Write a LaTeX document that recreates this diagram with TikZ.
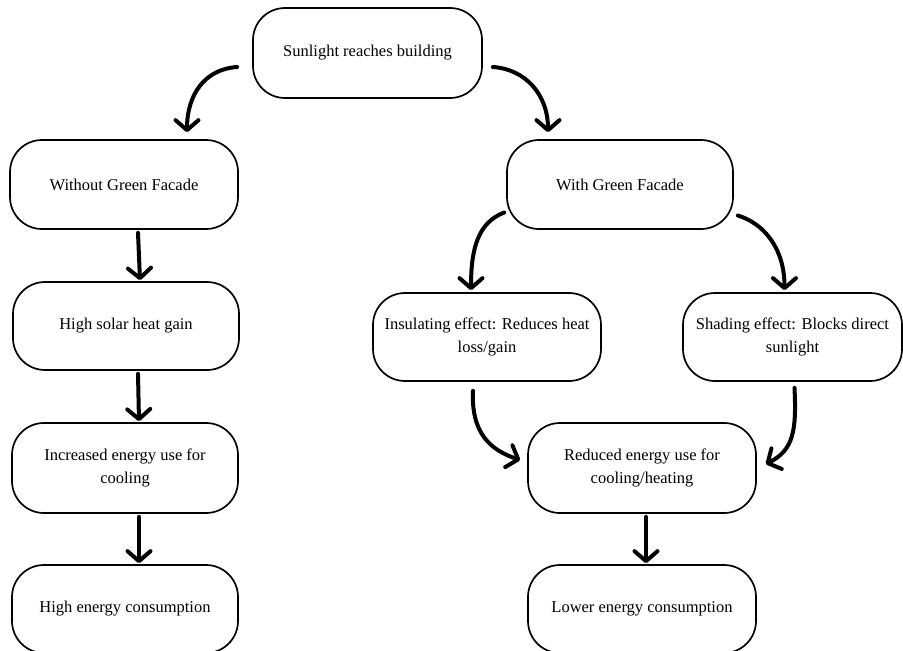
\documentclass[tikz,border=0pt]{standalone}
\usepackage{fontspec}
\setmainfont{Liberation Serif}
\usetikzlibrary{arrows.meta,calc}
\begin{document}
\begin{tikzpicture}[x=1pt,y=-1pt,
  box/.style={draw, line width=1.7pt, rounded corners=32pt, align=center, inner sep=0pt,
    font=\fontsize{16.5}{23}\selectfont, minimum height=88pt},
  arr/.style={line width=4pt, line cap=round,
    -{Straight Barb[length=10pt,width=23pt,line cap=round,line join=round]}}]
\useasboundingbox (0,0) rectangle (903,651);
\node[box, minimum width=229pt, minimum height=90pt] (top) at (367.5,53) {Sunlight reaches building};
\node[box, minimum width=228pt, minimum height=89pt] (without) at (124,184.5) {Without Green Facade};
\node[box, minimum width=226pt] (solar) at (126,326) {High solar heat gain};
\node[box, minimum width=226pt, minimum height=90pt] (incr) at (125,468) {Increased energy use for\\cooling};
\node[box, minimum width=226pt] (highc) at (125,609) {High energy consumption};
\node[box, minimum width=226pt, minimum height=89pt] (with) at (620,184.5) {With Green Facade};
\node[box, minimum width=228pt] (insul) at (487,337) {Insulating effect: Reduces heat\\loss/gain};
\node[box, minimum width=219pt] (shade) at (792.5,337) {Shading effect: Blocks direct\\sunlight};
\node[box, minimum width=228pt, minimum height=90pt] (red) at (642,468) {Reduced energy use for\\cooling/heating};
\node[box, minimum width=228pt] (lower) at (642,609) {Lower energy consumption};

\draw[arr] ([shift={(-15,14)}]top.west) .. controls +(-32,2) and +(0,-38) .. ([shift={(63,-7)}]without.north);
\draw[arr] ([shift={(10,14)}]top.east) .. controls +(32,2) and +(0,-38) .. ([shift={(-72,-7)}]with.north);
\draw[arr] ([shift={(-2,28)}]with.west) .. controls +(-26,10) and +(0,-42) .. ([shift={(-16,-2)}]insul.north);
\draw[arr] ([shift={(4,31)}]with.east) .. controls +(26,8) and +(0,-42) .. ([shift={(-8,-2)}]shade.north);
\draw[arr] ([shift={(-14,9)}]insul.south) .. controls +(-2,42) and +(-30,-10) .. ([shift={(-7,-8)}]red.west);
\draw[arr] ([shift={(2,6)}]shade.south) .. controls +(2,42) and +(28,-14) .. ([shift={(9,-4)}]red.east);

\draw[arr] ([shift={(14,3)}]without.south) -- ([shift={(14,-1)}]solar.north);
\draw[arr] ([shift={(12,3)}]solar.south) -- ([shift={(14,-1)}]incr.north);
\draw[arr] ([shift={(14,3)}]incr.south) -- ([shift={(14,-1)}]highc.north);
\draw[arr] ([shift={(4,3)}]red.south) -- ([shift={(4,-1)}]lower.north);
\end{tikzpicture}
\end{document}
